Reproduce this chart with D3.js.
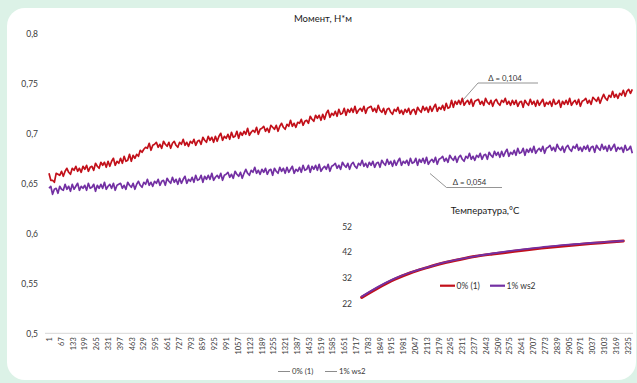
<!DOCTYPE html>
<html>
<head>
<meta charset="utf-8">
<script src="https://cdn.jsdelivr.net/npm/d3@7/dist/d3.min.js"></script>
<style>
  html, body { margin: 0; padding: 0; background: #dcf2e7; }
  svg { display: block; }
  text { font-family: Lato, "Open Sans", "DejaVu Sans", sans-serif; }
</style>
</head>
<body>
<script>
// ---- torque, N*m (every 10th reading, starting at reading 1) ----
const torqueStep = 10;
const torque0 = [ // 0% (1)
  0.660,0.653,0.653,0.651,0.660,0.659,0.658,0.662,0.657,0.662,0.665,0.661,0.659,0.665,0.663,0.667,0.662,0.665,0.661,0.667,
  0.664,0.668,0.662,0.666,0.667,0.663,0.670,0.667,0.665,0.671,0.668,0.671,0.666,0.672,0.667,0.672,0.675,0.668,0.672,0.670,
  0.675,0.670,0.677,0.672,0.673,0.679,0.672,0.678,0.675,0.679,0.677,0.683,0.681,0.684,0.686,0.685,0.690,0.683,0.688,0.689,
  0.691,0.686,0.689,0.685,0.692,0.689,0.687,0.691,0.685,0.690,0.692,0.688,0.686,0.691,0.689,0.694,0.688,0.691,0.687,0.692,
  0.690,0.694,0.688,0.692,0.693,0.689,0.696,0.693,0.691,0.697,0.693,0.696,0.691,0.697,0.692,0.697,0.700,0.693,0.697,0.695,
  0.699,0.694,0.701,0.696,0.697,0.702,0.695,0.701,0.698,0.702,0.699,0.705,0.698,0.701,0.703,0.701,0.706,0.699,0.704,0.705,
  0.707,0.702,0.705,0.701,0.708,0.706,0.704,0.708,0.702,0.707,0.710,0.706,0.704,0.709,0.707,0.713,0.707,0.710,0.706,0.711,
  0.710,0.714,0.708,0.712,0.713,0.710,0.717,0.714,0.712,0.718,0.715,0.718,0.713,0.719,0.714,0.720,0.723,0.716,0.720,0.718,
  0.722,0.717,0.724,0.719,0.720,0.725,0.718,0.724,0.721,0.725,0.721,0.727,0.720,0.723,0.725,0.722,0.727,0.720,0.725,0.726,
  0.727,0.722,0.725,0.721,0.728,0.723,0.721,0.725,0.719,0.724,0.725,0.721,0.719,0.724,0.722,0.726,0.720,0.723,0.719,0.724,
  0.721,0.725,0.719,0.723,0.724,0.719,0.726,0.723,0.721,0.727,0.723,0.726,0.721,0.727,0.722,0.726,0.729,0.722,0.726,0.724,
  0.728,0.723,0.730,0.725,0.726,0.733,0.726,0.732,0.729,0.733,0.729,0.735,0.728,0.731,0.733,0.729,0.734,0.727,0.732,0.733,
  0.734,0.729,0.732,0.728,0.735,0.731,0.729,0.733,0.727,0.732,0.734,0.730,0.728,0.733,0.731,0.735,0.729,0.732,0.728,0.733,
  0.729,0.733,0.727,0.731,0.732,0.726,0.733,0.730,0.728,0.734,0.729,0.732,0.727,0.733,0.728,0.731,0.734,0.727,0.731,0.729,
  0.732,0.727,0.734,0.729,0.730,0.733,0.726,0.732,0.729,0.733,0.729,0.735,0.728,0.731,0.733,0.729,0.734,0.727,0.732,0.733,
  0.735,0.730,0.733,0.729,0.736,0.734,0.732,0.736,0.730,0.735,0.739,0.735,0.733,0.738,0.736,0.742,0.736,0.739,0.735,0.740,
  0.738,0.743,0.737,0.742,0.744,0.740,0.744
];
const torque1 = [ // 1% ws2
  0.645,0.647,0.639,0.644,0.645,0.640,0.647,0.644,0.643,0.649,0.644,0.647,0.642,0.649,0.644,0.647,0.650,0.643,0.647,0.645,
  0.648,0.643,0.650,0.645,0.646,0.649,0.642,0.648,0.645,0.649,0.645,0.651,0.644,0.647,0.649,0.645,0.650,0.643,0.648,0.649,
  0.650,0.645,0.648,0.644,0.651,0.648,0.646,0.650,0.644,0.649,0.652,0.648,0.646,0.651,0.649,0.654,0.648,0.651,0.647,0.652,
  0.650,0.654,0.648,0.652,0.653,0.648,0.655,0.652,0.650,0.656,0.651,0.654,0.649,0.655,0.650,0.654,0.657,0.650,0.654,0.652,
  0.656,0.651,0.658,0.653,0.654,0.658,0.651,0.657,0.654,0.658,0.654,0.660,0.653,0.656,0.658,0.655,0.660,0.653,0.658,0.659,
  0.661,0.656,0.659,0.655,0.662,0.659,0.657,0.661,0.655,0.660,0.664,0.660,0.658,0.663,0.661,0.666,0.660,0.663,0.659,0.664,
  0.661,0.665,0.659,0.663,0.664,0.658,0.665,0.662,0.660,0.666,0.662,0.665,0.660,0.666,0.661,0.664,0.667,0.660,0.664,0.662,
  0.666,0.661,0.668,0.663,0.664,0.668,0.661,0.667,0.664,0.668,0.663,0.669,0.662,0.665,0.667,0.664,0.669,0.662,0.667,0.668,
  0.670,0.665,0.668,0.664,0.671,0.668,0.666,0.670,0.664,0.669,0.671,0.667,0.665,0.670,0.668,0.673,0.667,0.670,0.666,0.671,
  0.668,0.672,0.666,0.670,0.671,0.666,0.673,0.670,0.668,0.674,0.669,0.672,0.667,0.673,0.668,0.672,0.675,0.668,0.672,0.670,
  0.673,0.668,0.675,0.670,0.671,0.675,0.668,0.674,0.671,0.675,0.670,0.676,0.669,0.672,0.674,0.671,0.676,0.669,0.674,0.675,
  0.677,0.672,0.675,0.671,0.678,0.675,0.673,0.677,0.671,0.676,0.678,0.674,0.672,0.677,0.675,0.680,0.674,0.677,0.673,0.678,
  0.676,0.680,0.674,0.678,0.679,0.674,0.681,0.678,0.676,0.682,0.678,0.681,0.676,0.682,0.677,0.681,0.684,0.677,0.681,0.679,
  0.683,0.678,0.685,0.680,0.681,0.685,0.678,0.684,0.681,0.685,0.681,0.687,0.680,0.683,0.685,0.682,0.687,0.680,0.685,0.686,
  0.688,0.683,0.686,0.682,0.689,0.685,0.683,0.687,0.681,0.686,0.688,0.684,0.682,0.687,0.685,0.689,0.683,0.686,0.682,0.687,
  0.684,0.688,0.682,0.686,0.687,0.681,0.688,0.685,0.683,0.689,0.684,0.687,0.682,0.688,0.683,0.686,0.689,0.682,0.686,0.684,
  0.686,0.681,0.688,0.683,0.684,0.687,0.680
];

// ---- temperature, °C (every 204th reading) ----
const tempStep = 204;
const temp0 = [24.3,28.0,31.3,33.9,35.9,37.7,39.1,40.3,41.2,42.0,42.8,43.5,44.1,44.7,45.3,45.8,46.3];
const temp1 = [24.6,28.4,31.6,34.1,36.0,37.8,39.2,40.4,41.4,42.3,43.1,43.8,44.5,45.0,45.5,45.9,46.3];

// ---- axis ticks / labels ----
const readingCount = 3265;
const xTickValues = d3.range(1, 3236, 66);
const yTickValues = [0.5, 0.55, 0.6, 0.65, 0.7, 0.75, 0.8];
const yTickLabels = ["0,5", "0,55", "0,6", "0,65", "0,7", "0,75", "0,8"];
const tempTickValues = [22, 32, 42, 52];
const seriesNames = ["0% (1)", "1% ws2"];
const seriesColors = ["#c2101a", "#7330a3"];
const deltaLabels = ["\u0394 = 0,104", "\u0394 = 0,054"];

const W = 637, H = 383;
const svg = d3.select("body").append("svg").attr("width", W).attr("height", H);

// card
svg.append("rect").attr("x", 7).attr("y", 8).attr("width", 629).attr("height", 372)
  .attr("rx", 18).attr("fill", "#ffffff");

// ---- main chart scales ----
const x = d3.scaleLinear().domain([1, readingCount]).range([49, 633]);
const y = d3.scaleLinear().domain([0.5, 0.8]).range([333.3, 33.3]);

// title
svg.append("text").attr("x", 323).attr("y", 21.5).attr("text-anchor", "middle")
  .attr("font-size", 9.5).attr("fill", "#1a1a1a").text("Момент, Н*м");

// y axis
const yAxis = d3.axisLeft(y).tickValues(yTickValues).tickSize(0).tickPadding(0)
  .tickFormat((d, i) => yTickLabels[i]);
const gy = svg.append("g").attr("transform", "translate(38,0)").call(yAxis);
gy.select(".domain").remove();
gy.selectAll("text").attr("font-size", 8.5).attr("fill", "#3a3a3a")
  .style("font-family", "Lato, 'Open Sans', sans-serif");

// x axis
const xAxis = d3.axisBottom(x).tickValues(xTickValues).tickSize(0).tickFormat(d3.format("d"));
const gx = svg.append("g").attr("transform", "translate(0,333.3)").call(xAxis);
gx.select(".domain").attr("d", "M45,0H633").attr("stroke", "#d6d6d6").attr("stroke-width", 1);
gx.selectAll("text")
  .attr("transform", "rotate(-90)")
  .attr("x", -4).attr("y", 0).attr("dy", "0.33em")
  .attr("text-anchor", "end")
  .attr("font-size", 7.4).attr("fill", "#3a3a3a")
  .style("font-family", "Lato, 'Open Sans', sans-serif");

// torque lines
const torqueLine = d3.line()
  .x((d, i) => x(1 + i * torqueStep))
  .y(d => y(d));
[torque0, torque1].forEach((series, k) => {
  svg.append("path").datum(series)
    .attr("d", torqueLine)
    .attr("fill", "none")
    .attr("stroke", seriesColors[k])
    .attr("stroke-width", 1.7)
    .attr("stroke-linejoin", "round");
});

// delta callouts
const callouts = [
  { pts: [[463, 100], [478, 83], [538, 83]], tx: 505, ty: 80.5 },
  { pts: [[430, 173.5], [446.5, 187.5], [502, 187.5]], tx: 469.5, ty: 185 }
];
callouts.forEach((c, i) => {
  svg.append("path").attr("d", d3.line()(c.pts))
    .attr("fill", "none").attr("stroke", "#7a7a7a").attr("stroke-width", 0.8);
  svg.append("text").attr("x", c.tx).attr("y", c.ty).attr("text-anchor", "middle")
    .attr("font-size", 7.8).attr("fill", "#333").text(deltaLabels[i]);
});

// bottom legend
const legend = svg.append("g").attr("transform", "translate(0,371.5)");
[[278, seriesNames[0]], [325, seriesNames[1]]].forEach(([lx, name]) => {
  legend.append("line").attr("x1", lx).attr("x2", lx + 12).attr("y1", 0).attr("y2", 0)
    .attr("stroke", "#8c8c8c").attr("stroke-width", 1);
  legend.append("text").attr("x", lx + 14).attr("y", 2.8)
    .attr("font-size", 7.8).attr("fill", "#3a3a3a").text(name);
});

// ---- temperature inset ----
const tx = d3.scaleLinear().domain([1, readingCount]).range([361.7, 623.3]);
const ty = d3.scaleLinear().domain([22, 52]).range([303.3, 226.3]);

svg.append("text").attr("x", 485).attr("y", 214).attr("text-anchor", "middle")
  .attr("font-size", 9.5).attr("fill", "#1a1a1a").text("Температура,°С");

const gty = svg.append("g").attr("transform", "translate(352,0)")
  .call(d3.axisLeft(ty).tickValues(tempTickValues).tickSize(0).tickPadding(0));
gty.select(".domain").remove();
gty.selectAll("text").attr("font-size", 8.5).attr("fill", "#3a3a3a")
  .style("font-family", "Lato, 'Open Sans', sans-serif");

const tempLine = d3.line()
  .x((d, i) => tx(1 + i * tempStep))
  .y(d => ty(d))
  .curve(d3.curveMonotoneX);
[[temp0, 3], [temp1, 1.8]].forEach(([series, sw], k) => {
  svg.append("path").datum(series)
    .attr("d", tempLine)
    .attr("fill", "none")
    .attr("stroke", seriesColors[k])
    .attr("stroke-width", sw)
    .attr("stroke-linecap", "round");
});

// inset legend
const ilg = svg.append("g").attr("transform", "translate(0,285.7)");
[[440, seriesNames[0]], [490, seriesNames[1]]].forEach(([lx, name], k) => {
  ilg.append("line").attr("x1", lx).attr("x2", lx + 15).attr("y1", 0).attr("y2", 0)
    .attr("stroke", seriesColors[k]).attr("stroke-width", 2.2);
  ilg.append("text").attr("x", lx + 16.5).attr("y", 3)
    .attr("font-size", 8.5).attr("fill", "#333").text(name);
});
</script>
</body>
</html>
